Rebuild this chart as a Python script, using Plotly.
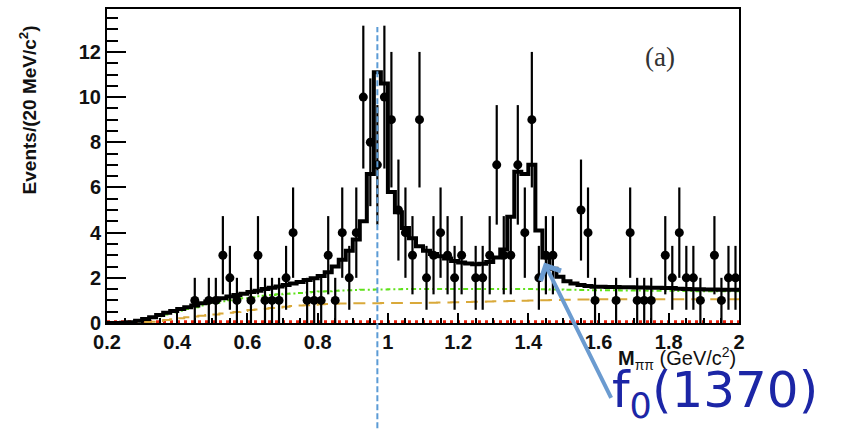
import numpy as np
import plotly.graph_objects as go

# ---- data ----
data_mass = [0.45, 0.49, 0.51, 0.53, 0.55, 0.57, 0.61, 0.63, 0.65, 0.67, 0.69, 0.71, 0.73,
             0.77, 0.79, 0.81, 0.83, 0.85, 0.87, 0.89, 0.91, 0.93, 0.95, 0.97, 0.99,
             1.01, 1.03, 1.05, 1.07, 1.09, 1.11, 1.13, 1.15, 1.17, 1.19, 1.21,
             1.25, 1.27, 1.29, 1.31, 1.33, 1.35, 1.37, 1.39, 1.41, 1.43, 1.45, 1.47,
             1.55, 1.57, 1.59, 1.65, 1.69, 1.71, 1.73, 1.75, 1.79, 1.81, 1.83, 1.85,
             1.87, 1.89, 1.93, 1.95, 1.97, 1.99]
data_counts = [1, 1, 1, 3, 2, 1, 1, 3, 1, 1, 1, 2, 4,
               1, 1, 1, 3, 1, 4, 2, 4, 10, 8, 7, 10,
               9, 5, 4, 3, 9, 2, 3, 4, 3, 2, 3,
               2, 2, 3, 7, 3, 3, 7, 4, 9, 2, 3, 3,
               5, 4, 1, 1, 4, 1, 1, 1, 3, 2, 4, 2,
               2, 1, 3, 1, 2, 2]

# fit components, one value per 20 MeV bin from 0.2 to 2.0 GeV/c^2 (90 bins)
bin_edges = [round(0.2 + 0.02 * k, 2) for k in range(91)]
fit_total = [0, 0, 0.01, 0.03, 0.10, 0.18, 0.26, 0.35, 0.45, 0.53,
             0.62, 0.70, 0.78, 0.87, 0.95, 1.03, 1.10, 1.17, 1.24, 1.30,
             1.37, 1.43, 1.50, 1.56, 1.62, 1.68, 1.75, 1.82, 1.90, 1.98,
             2.08, 2.25, 2.50, 2.80, 3.20, 3.70, 4.50, 6.60, 11.1, 10.6,
             5.80, 4.90, 4.20, 3.75, 3.40, 3.20, 3.05, 2.95, 2.85, 2.75,
             2.68, 2.63, 2.60, 2.62, 2.70, 2.90, 3.25, 4.70, 6.70, 6.60,
             7.00, 4.10, 2.90, 2.40, 2.05, 1.85, 1.75, 1.68, 1.64, 1.61,
             1.60, 1.59, 1.59, 1.58, 1.58, 1.57, 1.57, 1.56, 1.56, 1.55,
             1.55, 1.52, 1.50, 1.49, 1.49, 1.48, 1.48, 1.47, 1.47, 1.47]
fit_green = [0, 0, 0.01, 0.02, 0.08, 0.15, 0.22, 0.30, 0.38, 0.46,
             0.54, 0.62, 0.70, 0.77, 0.84, 0.90, 0.96, 1.01, 1.06, 1.10,
             1.14, 1.18, 1.21, 1.24, 1.27, 1.29, 1.31, 1.33, 1.35, 1.37,
             1.39, 1.41, 1.43, 1.44, 1.45, 1.46, 1.47, 1.47, 1.48, 1.48,
             1.49, 1.49, 1.50, 1.50, 1.50, 1.50, 1.50, 1.50, 1.50, 1.50,
             1.50, 1.50, 1.50, 1.50, 1.50, 1.50, 1.50, 1.50, 1.50, 1.50,
             1.50, 1.49, 1.49, 1.48, 1.48, 1.47, 1.47, 1.46, 1.46, 1.45,
             1.45, 1.45, 1.45, 1.44, 1.44, 1.44, 1.44, 1.43, 1.43, 1.43,
             1.43, 1.42, 1.42, 1.42, 1.41, 1.41, 1.41, 1.40, 1.40, 1.40]
fit_gold = [0, 0, 0, 0, 0.02, 0.04, 0.06, 0.09, 0.13, 0.17,
            0.21, 0.25, 0.29, 0.32, 0.35, 0.38, 0.42, 0.45, 0.49, 0.53,
            0.57, 0.60, 0.63, 0.66, 0.69, 0.72, 0.75, 0.77, 0.79, 0.81,
            0.83, 0.84, 0.85, 0.86, 0.86, 0.87, 0.87, 0.87, 0.87, 0.88,
            0.88, 0.88, 0.89, 0.89, 0.89, 0.90, 0.90, 0.91, 0.91, 0.92,
            0.92, 0.93, 0.94, 0.94, 0.95, 0.96, 0.96, 0.97, 0.98, 0.99,
            1.00, 1.01, 1.01, 1.02, 1.02, 1.03, 1.03, 1.04, 1.04, 1.04,
            1.05, 1.05, 1.05, 1.05, 1.05, 1.05, 1.05, 1.05, 1.05, 1.05,
            1.05, 1.05, 1.05, 1.05, 1.05, 1.05, 1.05, 1.05, 1.05, 1.05]
fit_red = [0.05] * 90

x_ticks = [0.2, 0.4, 0.6, 0.8, 1.0, 1.2, 1.4, 1.6, 1.8, 2.0]
x_ticktext = ["0.2", "0.4", "0.6", "0.8", "1", "1.2", "1.4", "1.6", "1.8", "2"]
y_ticks = [0, 2, 4, 6, 8, 10, 12]
y_ticktext = ["0", "2", "4", "6", "8", "10", "12"]

f0_980_mass = 0.97
arrow_tip = (1.445, 2.68)
arrow_tail = (1.638, -3.38)

# ---- figure ----
def step(vals):
    return list(vals) + [vals[-1]]

fig = go.Figure()
fig.add_trace(go.Scatter(x=bin_edges, y=step(fit_red), mode="lines", line_shape="hv",
                         line=dict(color="#e8200c", width=3, dash="3px,4px"), hoverinfo="skip"))
fig.add_trace(go.Scatter(x=bin_edges, y=step(fit_gold), mode="lines", line_shape="hv",
                         line=dict(color="#d9a93a", width=2, dash="12px,7px"), hoverinfo="skip"))
fig.add_trace(go.Scatter(x=bin_edges, y=step(fit_green), mode="lines", line_shape="hv",
                         line=dict(color="#5fe11a", width=2, dash="5px,3px,2px,3px"), hoverinfo="skip"))
fig.add_trace(go.Scatter(x=bin_edges, y=step(fit_total), mode="lines", line_shape="hv",
                         line=dict(color="black", width=4), hoverinfo="skip"))
fig.add_trace(go.Scatter(x=data_mass, y=data_counts, mode="markers",
                         marker=dict(color="black", size=9, symbol="circle"),
                         error_y=dict(type="data", array=list(np.sqrt(data_counts)),
                                      color="black", thickness=2.2, width=0)))

fig.add_shape(type="line", xref="x", yref="paper", x0=f0_980_mass, x1=f0_980_mass,
              y0=-0.335, y1=0.943, line=dict(color="#5b9bd5", width=2, dash="6px,3px"))

fig.add_annotation(x=arrow_tip[0], y=arrow_tip[1], ax=arrow_tail[0], ay=arrow_tail[1],
                   xref="x", yref="y", axref="x", ayref="y", text="", showarrow=True,
                   arrowhead=4, arrowsize=1.1, arrowwidth=4, arrowcolor="#6b9bd0")

fig.add_annotation(x=-0.125, y=0.677, xref="paper", yref="paper", textangle=-90,
                   text="Events/(20 MeV/c<sup>2</sup>)", showarrow=False,
                   xanchor="center", yanchor="middle",
                   font=dict(family="Liberation Sans, Arial", size=19, color="#111", weight="bold"))
fig.add_annotation(x=0.998, y=-0.114, xref="paper", yref="paper",
                   text="<b>M</b><sub>ππ</sub> (GeV/c<sup>2</sup>)", showarrow=False,
                   xanchor="right", yanchor="middle",
                   font=dict(family="Liberation Sans, Arial", size=20, color="#111"))
fig.add_annotation(x=0.875, y=0.848, xref="paper", yref="paper", text="(a)", showarrow=False,
                   xanchor="center", yanchor="middle",
                   font=dict(family="Liberation Serif, DejaVu Serif", size=27, color="#333"))
fig.add_annotation(x=(610 - 107) / 632, y=-0.3354, xref="paper", yref="paper",
                   text="f<sub>0</sub>(1370)", showarrow=False, xanchor="left", yanchor="bottom",
                   font=dict(family="DejaVu Sans", size=50, color="#1c26a6"))

fig.update_layout(
    width=841, height=429, margin=dict(l=107, r=102, t=7, b=106),
    paper_bgcolor="white", plot_bgcolor="white", showlegend=False,
    xaxis=dict(range=[0.2, 2.0], tickvals=x_ticks, ticktext=x_ticktext,
               ticks="inside", ticklen=10, tickwidth=2, tickcolor="black",
               minor=dict(ticks="inside", ticklen=5, dtick=0.05, tickwidth=1.5, tickcolor="black"),
               showline=True, linecolor="black", linewidth=2, mirror=True, showgrid=False,
               zeroline=False,
               tickfont=dict(family="Liberation Sans, Arial", size=20, color="#111", weight="bold")),
    yaxis=dict(range=[0, 13.9], tickvals=y_ticks, ticktext=y_ticktext,
               ticks="inside", ticklen=19, tickwidth=2, tickcolor="black",
               minor=dict(ticks="inside", ticklen=11, dtick=0.5, tickwidth=1.5, tickcolor="black"),
               showline=True, linecolor="black", linewidth=2, mirror=True, showgrid=False,
               zeroline=False,
               tickfont=dict(family="Liberation Sans, Arial", size=20, color="#111", weight="bold")),
)

fig.write_html("out.html")
